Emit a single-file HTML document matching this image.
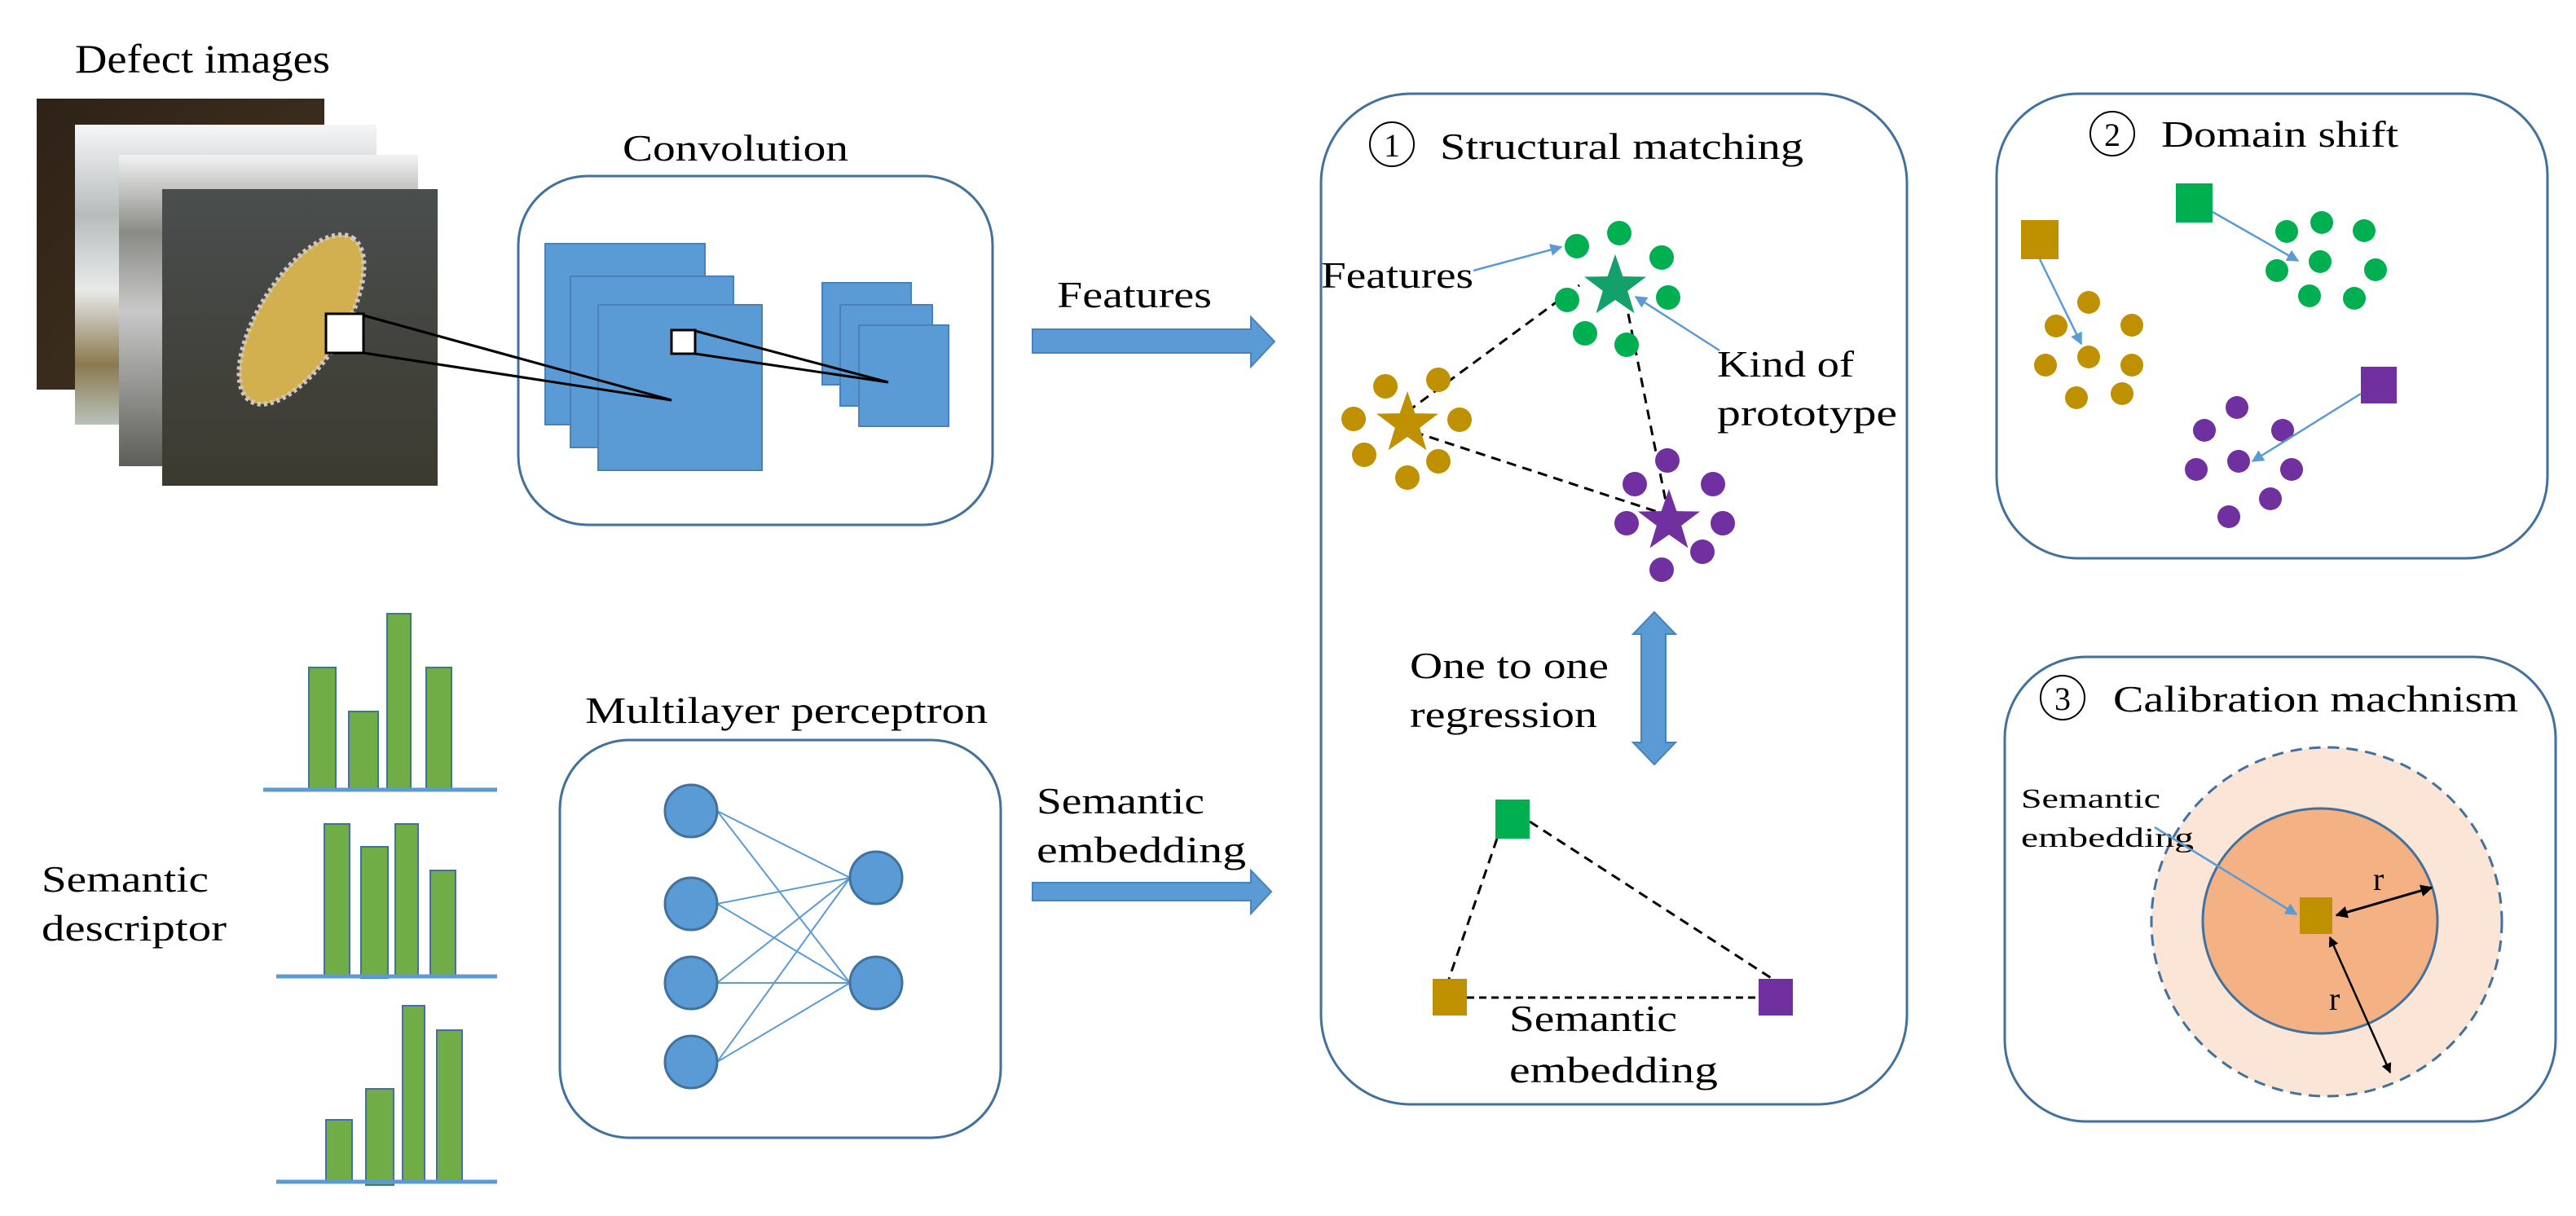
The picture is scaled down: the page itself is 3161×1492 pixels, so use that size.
<!DOCTYPE html>
<html><head><meta charset="utf-8"><style>
html,body{margin:0;padding:0;background:#fff;}
svg{display:block;}
text{font-family:"Liberation Serif",serif;fill:#000;}
</style></head><body>
<svg width="3161" height="1492" viewBox="0 0 3161 1492" xmlns="http://www.w3.org/2000/svg">
<defs>
<linearGradient id="g1" x1="0" y1="0" x2="1" y2="1"><stop offset="0" stop-color="#2e2217"/><stop offset="0.5" stop-color="#3a2c1c"/><stop offset="1" stop-color="#3b2a18"/></linearGradient>
<linearGradient id="g2" x1="0" y1="0" x2="0" y2="1"><stop offset="0" stop-color="#f4f6f8"/><stop offset="0.3" stop-color="#b9bcbc"/><stop offset="0.55" stop-color="#e8eaea"/><stop offset="0.8" stop-color="#8b7a50"/><stop offset="1" stop-color="#b8c2bc"/></linearGradient>
<linearGradient id="g3" x1="0" y1="0" x2="0" y2="1"><stop offset="0" stop-color="#f2f2f2"/><stop offset="0.25" stop-color="#8a8a86"/><stop offset="0.5" stop-color="#c8c8c8"/><stop offset="1" stop-color="#5e5e58"/></linearGradient>
<linearGradient id="g4" x1="0" y1="0" x2="0" y2="1"><stop offset="0" stop-color="#4a4e4e"/><stop offset="1" stop-color="#3c3a30"/></linearGradient>
<marker id="ab" viewBox="0 0 10 10" refX="9" refY="5" markerWidth="6" markerHeight="6" orient="auto"><path d="M0,0L10,5L0,10z" fill="#5b9bd5"/></marker>
<marker id="ak" viewBox="0 0 10 10" refX="9" refY="5" markerWidth="5" markerHeight="5" orient="auto-start-reverse"><path d="M0,0L10,5L0,10z" fill="#000"/></marker>
</defs>

<!-- Defect images -->
<text x="92" y="89" font-size="50" textLength="313" lengthAdjust="spacingAndGlyphs">Defect images</text>
<rect x="45" y="121" width="353" height="357" fill="url(#g1)"/>
<rect x="92" y="153" width="370" height="368" fill="url(#g2)"/>
<rect x="146" y="190" width="367" height="382" fill="url(#g3)"/>
<rect x="199" y="232" width="338" height="364" fill="url(#g4)"/>
<ellipse cx="370" cy="392" rx="118" ry="52" transform="rotate(-58 370 392)" fill="#d2b050" stroke="#d0c8c8" stroke-width="6" stroke-dasharray="4 4"/>
<rect x="400" y="385" width="46" height="48" fill="#fff" stroke="#000" stroke-width="3"/>
<line x1="446" y1="387" x2="824" y2="491" stroke="#000" stroke-width="3"/>
<line x1="446" y1="433" x2="824" y2="491" stroke="#000" stroke-width="3"/>

<!-- Convolution -->
<text x="764" y="197" font-size="46" textLength="277" lengthAdjust="spacingAndGlyphs">Convolution</text>
<rect x="636" y="216" width="582" height="428" rx="85" fill="none" stroke="#41719c" stroke-width="3"/>
<g fill="#5b9bd5" stroke="#4a82b8" stroke-width="2">
<rect x="669" y="299" width="196" height="222"/>
<rect x="700" y="339" width="200" height="210"/>
<rect x="734" y="374" width="201" height="203"/>
<rect x="1009" y="347" width="109" height="125"/>
<rect x="1031" y="374" width="113" height="124"/>
<rect x="1054" y="399" width="110" height="124"/>
</g>
<line x1="446" y1="387" x2="824" y2="491" stroke="#000" stroke-width="3"/>
<line x1="446" y1="433" x2="824" y2="491" stroke="#000" stroke-width="3"/>
<rect x="824" y="405" width="29" height="29" fill="#fff" stroke="#000" stroke-width="3"/>
<line x1="853" y1="406" x2="1090" y2="469" stroke="#000" stroke-width="3"/>
<line x1="853" y1="434" x2="1090" y2="469" stroke="#000" stroke-width="3"/>

<text x="1297" y="377" font-size="46" textLength="190" lengthAdjust="spacingAndGlyphs">Features</text>
<path d="M1267,404 L1535,404 L1535,389 L1564,419 L1535,450 L1535,433 L1267,433 Z" fill="#5b9bd5" stroke="#4a82b8" stroke-width="2"/>

<!-- Bars -->
<g fill="#70ad47" stroke="#41719c" stroke-width="2">
<rect x="379" y="819" width="33" height="150"/><rect x="428" y="873" width="36" height="96"/><rect x="475" y="753" width="29" height="216"/><rect x="523" y="819" width="31" height="150"/>
<rect x="398" y="1011" width="31" height="187"/><rect x="443" y="1039" width="33" height="161"/><rect x="485" y="1011" width="28" height="187"/><rect x="528" y="1068" width="31" height="130"/>
<rect x="400" y="1374" width="32" height="76"/><rect x="449" y="1336" width="34" height="118"/><rect x="494" y="1234" width="27" height="216"/><rect x="536" y="1264" width="31" height="186"/>
</g>
<g stroke="#5b9bd5" stroke-width="5">
<line x1="323" y1="969" x2="610" y2="969"/><line x1="339" y1="1198" x2="610" y2="1198"/><line x1="339" y1="1450" x2="610" y2="1450"/>
</g>
<text x="51" y="1094" font-size="46" textLength="205" lengthAdjust="spacingAndGlyphs">Semantic</text>
<text x="51" y="1154" font-size="46" textLength="227" lengthAdjust="spacingAndGlyphs">descriptor</text>

<!-- MLP -->
<text x="718" y="887" font-size="46" textLength="494" lengthAdjust="spacingAndGlyphs">Multilayer perceptron</text>
<rect x="687" y="908" width="541" height="488" rx="85" fill="none" stroke="#41719c" stroke-width="3"/>
<g stroke="#5b9bd5" stroke-width="2">
<line x1="880" y1="995" x2="1043" y2="1077"/><line x1="880" y1="995" x2="1043" y2="1206"/>
<line x1="880" y1="1109" x2="1043" y2="1077"/><line x1="880" y1="1109" x2="1043" y2="1206"/>
<line x1="880" y1="1206" x2="1043" y2="1077"/><line x1="880" y1="1206" x2="1043" y2="1206"/>
<line x1="880" y1="1303" x2="1043" y2="1077"/><line x1="880" y1="1303" x2="1043" y2="1206"/>
</g>
<g fill="#5b9bd5" stroke="#41719c" stroke-width="3">
<circle cx="848" cy="995" r="32"/><circle cx="848" cy="1109" r="32"/><circle cx="848" cy="1206" r="32"/><circle cx="848" cy="1303" r="32"/>
<circle cx="1075" cy="1077" r="32"/><circle cx="1075" cy="1206" r="32"/>
</g>
<text x="1272" y="998" font-size="46" textLength="206" lengthAdjust="spacingAndGlyphs">Semantic</text>
<text x="1272" y="1058" font-size="46" textLength="257" lengthAdjust="spacingAndGlyphs">embedding</text>
<path d="M1267,1083 L1535,1083 L1535,1068 L1560,1094 L1535,1121 L1535,1105 L1267,1105 Z" fill="#5b9bd5" stroke="#4a82b8" stroke-width="2"/>

<!-- Box 1 -->
<rect x="1621" y="115" width="719" height="1240" rx="110" fill="none" stroke="#41719c" stroke-width="3"/>
<circle cx="1708" cy="177" r="27" fill="none" stroke="#000" stroke-width="2"/>
<text x="1708" y="192" font-size="40" text-anchor="middle">1</text>
<text x="1767" y="195" font-size="46" textLength="446" lengthAdjust="spacingAndGlyphs">Structural matching</text>
<g stroke="#000" stroke-width="3" stroke-dasharray="12 8" fill="none">
<line x1="1727" y1="505" x2="1938" y2="350"/>
<line x1="1735" y1="530" x2="2040" y2="630"/>
<line x1="1998" y1="385" x2="2046" y2="625"/>
</g>
<g fill="#00b050">
<circle cx="1935" cy="302" r="15"/><circle cx="1987" cy="286" r="15"/><circle cx="2039" cy="316" r="15"/><circle cx="1923" cy="368" r="15"/><circle cx="2047" cy="365" r="15"/><circle cx="1945" cy="409" r="15"/><circle cx="1996" cy="423" r="15"/>
</g>
<g fill="#bf9000">
<circle cx="1700" cy="474" r="15"/><circle cx="1765" cy="466" r="15"/><circle cx="1661" cy="514" r="15"/><circle cx="1791" cy="515" r="15"/><circle cx="1674" cy="558" r="15"/><circle cx="1765" cy="566" r="15"/><circle cx="1727" cy="586" r="15"/>
</g>
<g fill="#7030a0">
<circle cx="2046" cy="565" r="15"/><circle cx="2006" cy="594" r="15"/><circle cx="2102" cy="594" r="15"/><circle cx="1996" cy="642" r="15"/><circle cx="2114" cy="642" r="15"/><circle cx="2089" cy="677" r="15"/><circle cx="2039" cy="699" r="15"/>
</g>
<path id="star" d="M0,-40 L9.4,-12.9 L38,-12.4 L15.2,4.9 L23.5,32.4 L0,16 L-23.5,32.4 L-15.2,4.9 L-38,-12.4 L-9.4,-12.9 Z" transform="translate(1982,352)" fill="#14a06a"/>
<path d="M0,-40 L9.4,-12.9 L38,-12.4 L15.2,4.9 L23.5,32.4 L0,16 L-23.5,32.4 L-15.2,4.9 L-38,-12.4 L-9.4,-12.9 Z" transform="translate(1727,520)" fill="#bf9000"/>
<path d="M0,-40 L9.4,-12.9 L38,-12.4 L15.2,4.9 L23.5,32.4 L0,16 L-23.5,32.4 L-15.2,4.9 L-38,-12.4 L-9.4,-12.9 Z" transform="translate(2048,640)" fill="#7030a0"/>
<text x="1621" y="353" font-size="46" textLength="187" lengthAdjust="spacingAndGlyphs">Features</text>
<line x1="1808" y1="332" x2="1916" y2="303" stroke="#5b9bd5" stroke-width="2.5" marker-end="url(#ab)"/>
<text x="2107" y="462" font-size="46" textLength="168" lengthAdjust="spacingAndGlyphs">Kind of</text>
<text x="2107" y="522" font-size="46" textLength="221" lengthAdjust="spacingAndGlyphs">prototype</text>
<line x1="2110" y1="430" x2="2007" y2="364" stroke="#5b9bd5" stroke-width="2.5" marker-end="url(#ab)"/>

<path d="M2014,778 L2004,778 L2030,751 L2056,778 L2044,778 L2044,911 L2056,911 L2030,938 L2004,911 L2014,911 Z" fill="#5b9bd5" stroke="#4a82b8" stroke-width="2"/>
<text x="1730" y="832" font-size="46" textLength="244" lengthAdjust="spacingAndGlyphs">One to one</text>
<text x="1730" y="892" font-size="46" textLength="230" lengthAdjust="spacingAndGlyphs">regression</text>
<g stroke="#000" stroke-width="3" stroke-dasharray="12 8" fill="none">
<line x1="1837" y1="1029" x2="1778" y2="1201"/>
<line x1="1877" y1="1008" x2="2175" y2="1201"/>
</g>
<line x1="1800" y1="1224" x2="2158" y2="1224" stroke="#000" stroke-width="3" stroke-dasharray="9 6"/>
<rect x="1835" y="981" width="42" height="48" fill="#00b050"/>
<rect x="1758" y="1201" width="42" height="45" fill="#bf9000"/>
<rect x="2158" y="1201" width="42" height="45" fill="#7030a0"/>
<text x="1852" y="1265" font-size="46" textLength="206" lengthAdjust="spacingAndGlyphs">Semantic</text>
<text x="1852" y="1328" font-size="46" textLength="256" lengthAdjust="spacingAndGlyphs">embedding</text>

<!-- Box 2 -->
<rect x="2450" y="115" width="676" height="570" rx="100" fill="none" stroke="#41719c" stroke-width="3"/>
<circle cx="2592" cy="164" r="27" fill="none" stroke="#000" stroke-width="2"/>
<text x="2592" y="179" font-size="40" text-anchor="middle">2</text>
<text x="2652" y="180" font-size="46" textLength="291" lengthAdjust="spacingAndGlyphs">Domain shift</text>
<g fill="#00b050">
<circle cx="2806" cy="284" r="14"/><circle cx="2849" cy="273" r="14"/><circle cx="2901" cy="283" r="14"/><circle cx="2794" cy="332" r="14"/><circle cx="2847" cy="321" r="14"/><circle cx="2915" cy="331" r="14"/><circle cx="2834" cy="363" r="14"/><circle cx="2889" cy="366" r="14"/>
</g>
<g fill="#bf9000">
<circle cx="2563" cy="371" r="14"/><circle cx="2523" cy="400" r="14"/><circle cx="2616" cy="399" r="14"/><circle cx="2563" cy="438" r="14"/><circle cx="2510" cy="448" r="14"/><circle cx="2616" cy="448" r="14"/><circle cx="2548" cy="488" r="14"/><circle cx="2604" cy="483" r="14"/>
</g>
<g fill="#7030a0">
<circle cx="2745" cy="500" r="14"/><circle cx="2705" cy="528" r="14"/><circle cx="2801" cy="528" r="14"/><circle cx="2695" cy="576" r="14"/><circle cx="2747" cy="566" r="14"/><circle cx="2812" cy="576" r="14"/><circle cx="2786" cy="612" r="14"/><circle cx="2735" cy="634" r="14"/>
</g>
<rect x="2480" y="270" width="46" height="48" fill="#bf9000"/>
<rect x="2670" y="225" width="45" height="48" fill="#00b050"/>
<rect x="2897" y="450" width="44" height="45" fill="#7030a0"/>
<g stroke="#5b9bd5" stroke-width="2.5">
<line x1="2715" y1="260" x2="2820" y2="320" marker-end="url(#ab)"/>
<line x1="2503" y1="318" x2="2554" y2="422" marker-end="url(#ab)"/>
<line x1="2897" y1="483" x2="2764" y2="566" marker-end="url(#ab)"/>
</g>

<!-- Box 3 -->
<rect x="2460" y="806" width="676" height="570" rx="100" fill="none" stroke="#41719c" stroke-width="3"/>
<circle cx="2531" cy="856" r="27" fill="none" stroke="#000" stroke-width="2"/>
<text x="2531" y="871" font-size="40" text-anchor="middle">3</text>
<text x="2593" y="873" font-size="46" textLength="497" lengthAdjust="spacingAndGlyphs">Calibration machnism</text>
<ellipse cx="2855" cy="1131" rx="215" ry="214" fill="#fbe5d6" stroke="#41719c" stroke-width="3" stroke-dasharray="14 9"/>
<ellipse cx="2847" cy="1130" rx="144" ry="138" fill="#f4b183" stroke="#41719c" stroke-width="3"/>
<rect x="2822" y="1101" width="40" height="45" fill="#bf9000"/>
<text x="2480" y="991" font-size="34" textLength="171" lengthAdjust="spacingAndGlyphs">Semantic</text>
<text x="2480" y="1039" font-size="34" textLength="212" lengthAdjust="spacingAndGlyphs">embedding</text>
<line x1="2644" y1="1015" x2="2818" y2="1122" stroke="#5b9bd5" stroke-width="2.5" marker-end="url(#ab)"/>
<line x1="2867" y1="1123" x2="2984" y2="1089" stroke="#000" stroke-width="3" marker-start="url(#ak)" marker-end="url(#ak)"/>
<line x1="2859" y1="1150" x2="2933" y2="1316" stroke="#000" stroke-width="2.5" marker-start="url(#ak)" marker-end="url(#ak)"/>
<text x="2912" y="1092" font-size="40">r</text>
<text x="2858" y="1239" font-size="40">r</text>
</svg>
</body></html>
